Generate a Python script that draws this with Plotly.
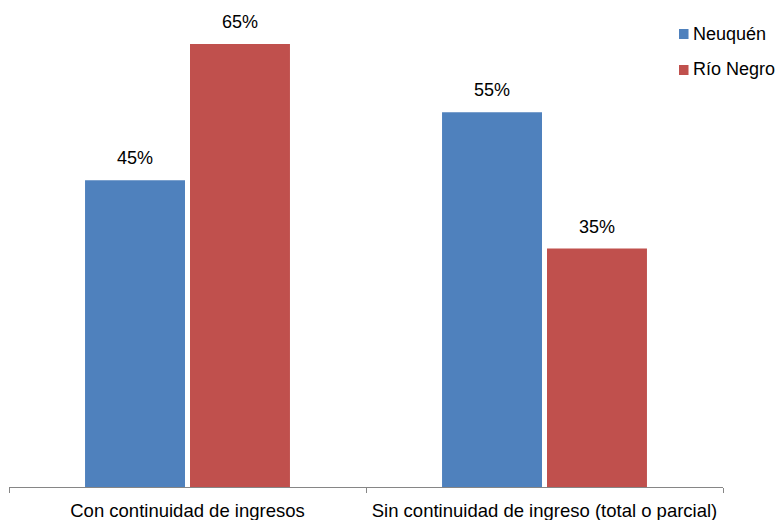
import plotly.graph_objects as go

categories = ["Con continuidad de ingresos", "Sin continuidad de ingreso (total o parcial)"]
series_names = ["Neuquén", "Río Negro"]
neuquen = [0.45, 0.55]
rio_negro = [0.65, 0.35]
colors = ["#4F81BD", "#C0504D"]

FONT = "Liberation Sans, Arial, sans-serif"

fig = go.Figure()
for name, vals, col in zip(series_names, [neuquen, rio_negro], colors):
    fig.add_trace(go.Bar(
        x=categories, y=vals, name=name,
        marker=dict(color=col, line=dict(width=0)),
        hoverinfo="skip", showlegend=False,
    ))

# value labels above bars
shifts = [-52.5, 52.5]
for vals, xs in zip([neuquen, rio_negro], shifts):
    for c, v in zip(categories, vals):
        fig.add_annotation(
            x=c, y=v, xref="x", yref="y", xshift=xs, yshift=10,
            text=f"{v*100:.0f}%", showarrow=False, yanchor="bottom",
            font=dict(family=FONT, size=18, color="#000000"),
        )

# legend (Excel-style small squares)
legend_rows = [(0.9392, 0.9602, 0.9497), (0.8637, 0.8847, 0.8753)]
for name, col, (y0, y1, yt) in zip(series_names, colors, legend_rows):
    fig.add_shape(type="rect", xref="paper", yref="paper",
                  x0=0.9384, x1=0.9517, y0=y0, y1=y1,
                  fillcolor=col, line=dict(width=0))
    fig.add_annotation(x=0.9552, y=yt, xref="paper", yref="paper",
                       text=name, showarrow=False, xanchor="left", yanchor="middle",
                       font=dict(family=FONT, size=18, color="#000000"))

fig.update_layout(
    width=778, height=520,
    margin=dict(l=9, r=55, t=10, b=33),
    paper_bgcolor="white", plot_bgcolor="white",
    barmode="group", bargap=0.412, bargroupgap=0.0476,
    font=dict(family=FONT, size=18, color="#000000"),
    showlegend=False,
    xaxis=dict(
        showline=True, linecolor="#868686", linewidth=1,
        ticks="outside", tickson="boundaries", ticklen=5, tickcolor="#868686",
        showgrid=False, zeroline=False, ticklabelstandoff=7, automargin=False,
        tickfont=dict(family=FONT, size=18.5, color="#000000"),
    ),
    yaxis=dict(
        range=[0, 0.7], visible=False, showgrid=False, zeroline=False,
        automargin=False,
    ),
)

fig.write_html("out.html", config={"displayModeBar": False},
               post_script="document.body.style.margin='0';document.body.style.overflow='hidden';")
